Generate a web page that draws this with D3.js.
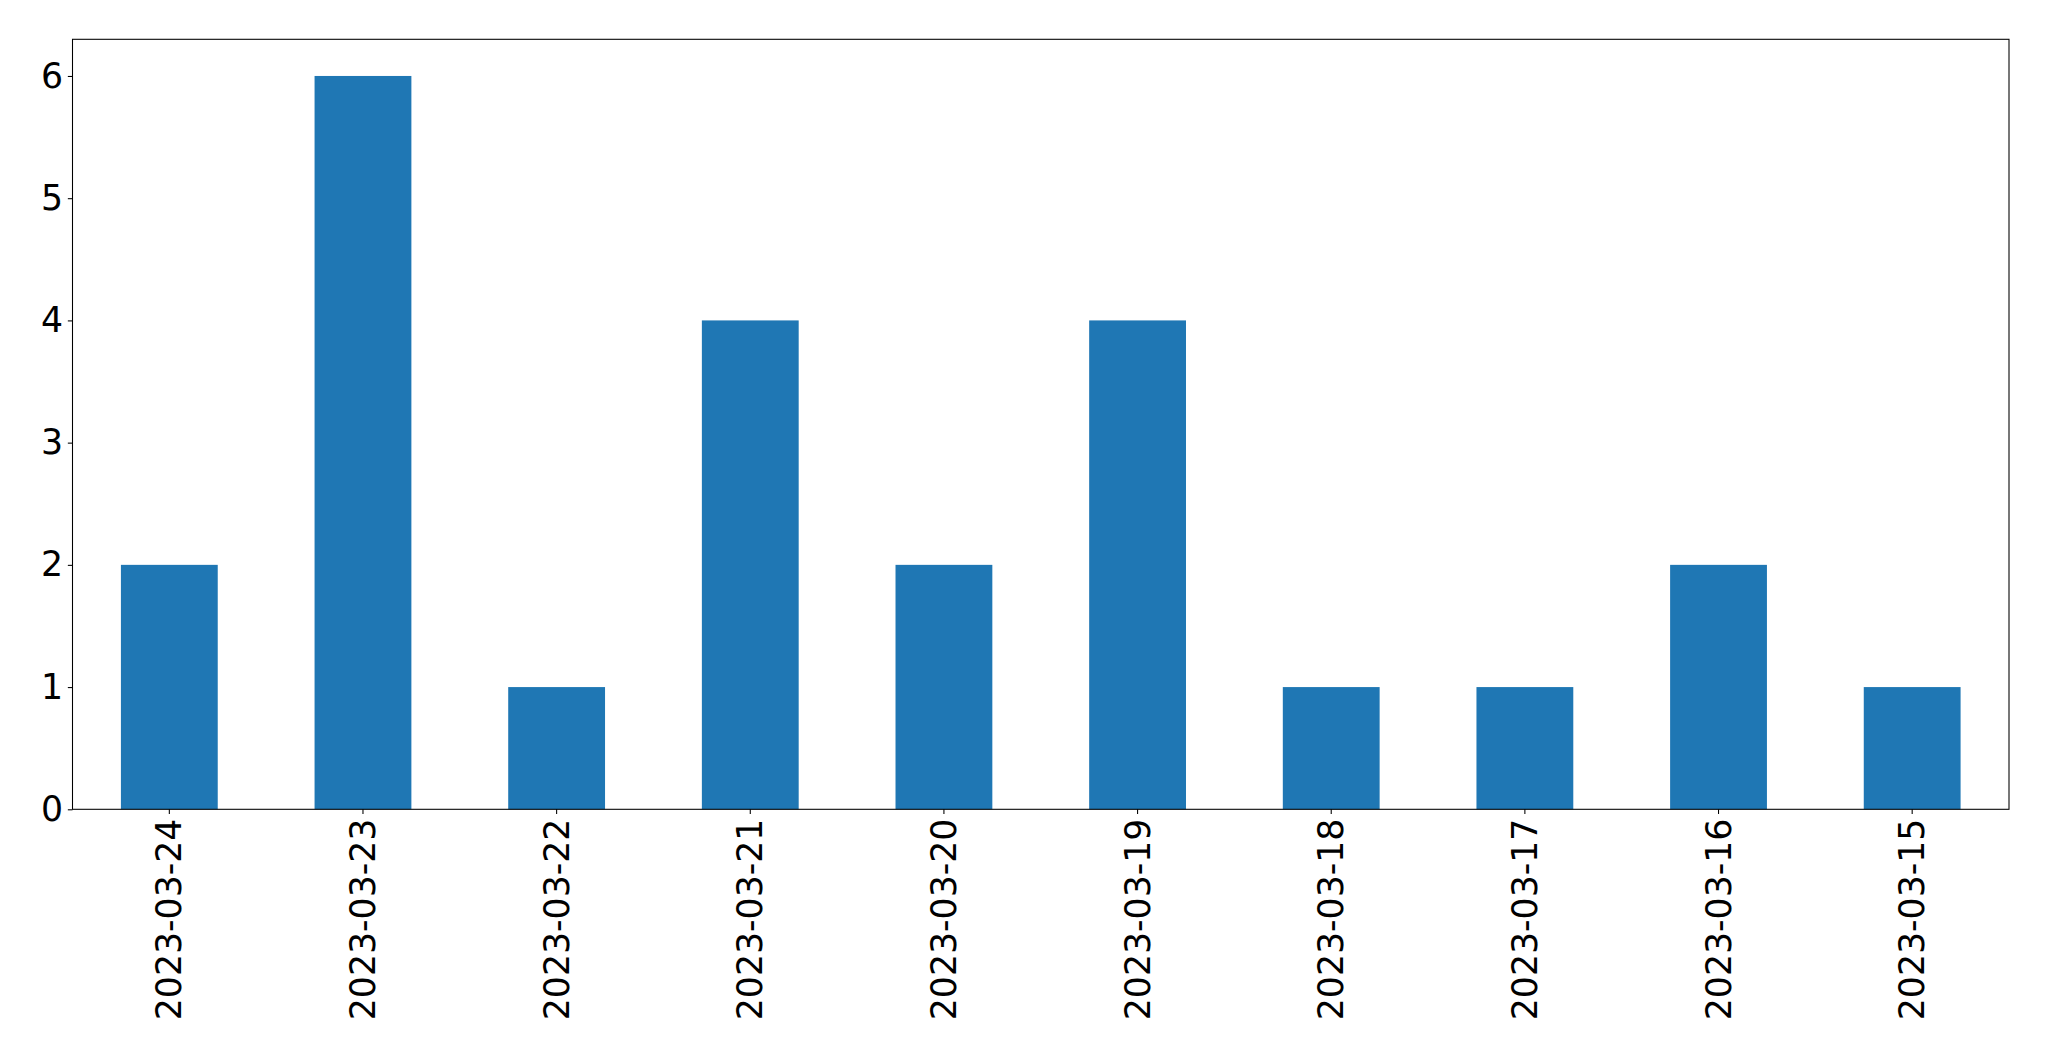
<!DOCTYPE html>
<meta charset="utf-8">
<style>
  body { margin: 0; background: #fff; }
  text { font-family: "DejaVu Sans", sans-serif; fill: #000; }
</style>
<body>
<svg width="2049" height="1061"></svg>
<script src="https://cdn.jsdelivr.net/npm/d3@7"></script>
<script>
  var dates = ['2023-03-24', '2023-03-23', '2023-03-22', '2023-03-21', '2023-03-20',
               '2023-03-19', '2023-03-18', '2023-03-17', '2023-03-16', '2023-03-15'];
  var counts = [2, 6, 1, 4, 2, 4, 1, 1, 2, 1];
  var yTicks = [0, 1, 2, 3, 4, 5, 6];

  var svg = d3.select('svg');
  var plotLeft = 72.5, plotRight = 2009, plotTop = 39.3, plotBottom = 809.3;
  var fontSize = 34.7;
  var tickLen = 4.67, pad = 4.67;

  var x = d3.scaleBand()
    .domain(dates)
    .range([plotLeft, plotRight])
    .paddingInner(0.5)
    .paddingOuter(0.25);

  var y = d3.scaleLinear()
    .domain([0, d3.max(counts) * 1.05])
    .range([plotBottom, plotTop]);

  // bars
  svg.append('g').selectAll('rect')
    .data(dates)
    .enter().append('rect')
    .attr('x', function (d) { return x(d); })
    .attr('y', function (d, i) { return y(counts[i]); })
    .attr('width', x.bandwidth())
    .attr('height', function (d, i) { return plotBottom - y(counts[i]); })
    .attr('fill', '#1f77b4');

  // x axis
  var xAxis = svg.append('g')
    .attr('transform', 'translate(0,' + plotBottom + ')')
    .call(d3.axisBottom(x).tickSize(tickLen).tickPadding(pad));
  xAxis.select('.domain').remove();
  xAxis.selectAll('line').attr('stroke', '#000').attr('stroke-width', 1.07);
  xAxis.selectAll('text')
    .attr('font-size', fontSize)
    .attr('font-family', 'DejaVu Sans')
    .attr('x', null).attr('dy', null)
    .attr('y', null)
    .attr('text-anchor', 'end')
    .attr('dominant-baseline', 'central')
    .attr('transform', 'translate(0,' + (tickLen + pad) + ') rotate(-90)');

  // y axis
  var yAxis = svg.append('g')
    .attr('transform', 'translate(' + plotLeft + ',0)')
    .call(d3.axisLeft(y).tickValues(yTicks).tickFormat(d3.format('d')).tickSize(tickLen).tickPadding(pad));
  yAxis.select('.domain').remove();
  yAxis.selectAll('line').attr('stroke', '#000').attr('stroke-width', 1.07);
  yAxis.selectAll('text')
    .attr('font-size', fontSize)
    .attr('font-family', 'DejaVu Sans');

  // frame
  svg.append('rect')
    .attr('x', plotLeft).attr('y', plotTop)
    .attr('width', plotRight - plotLeft).attr('height', plotBottom - plotTop)
    .attr('fill', 'none')
    .attr('stroke', '#000')
    .attr('stroke-width', 1.07);
</script>
</body>
